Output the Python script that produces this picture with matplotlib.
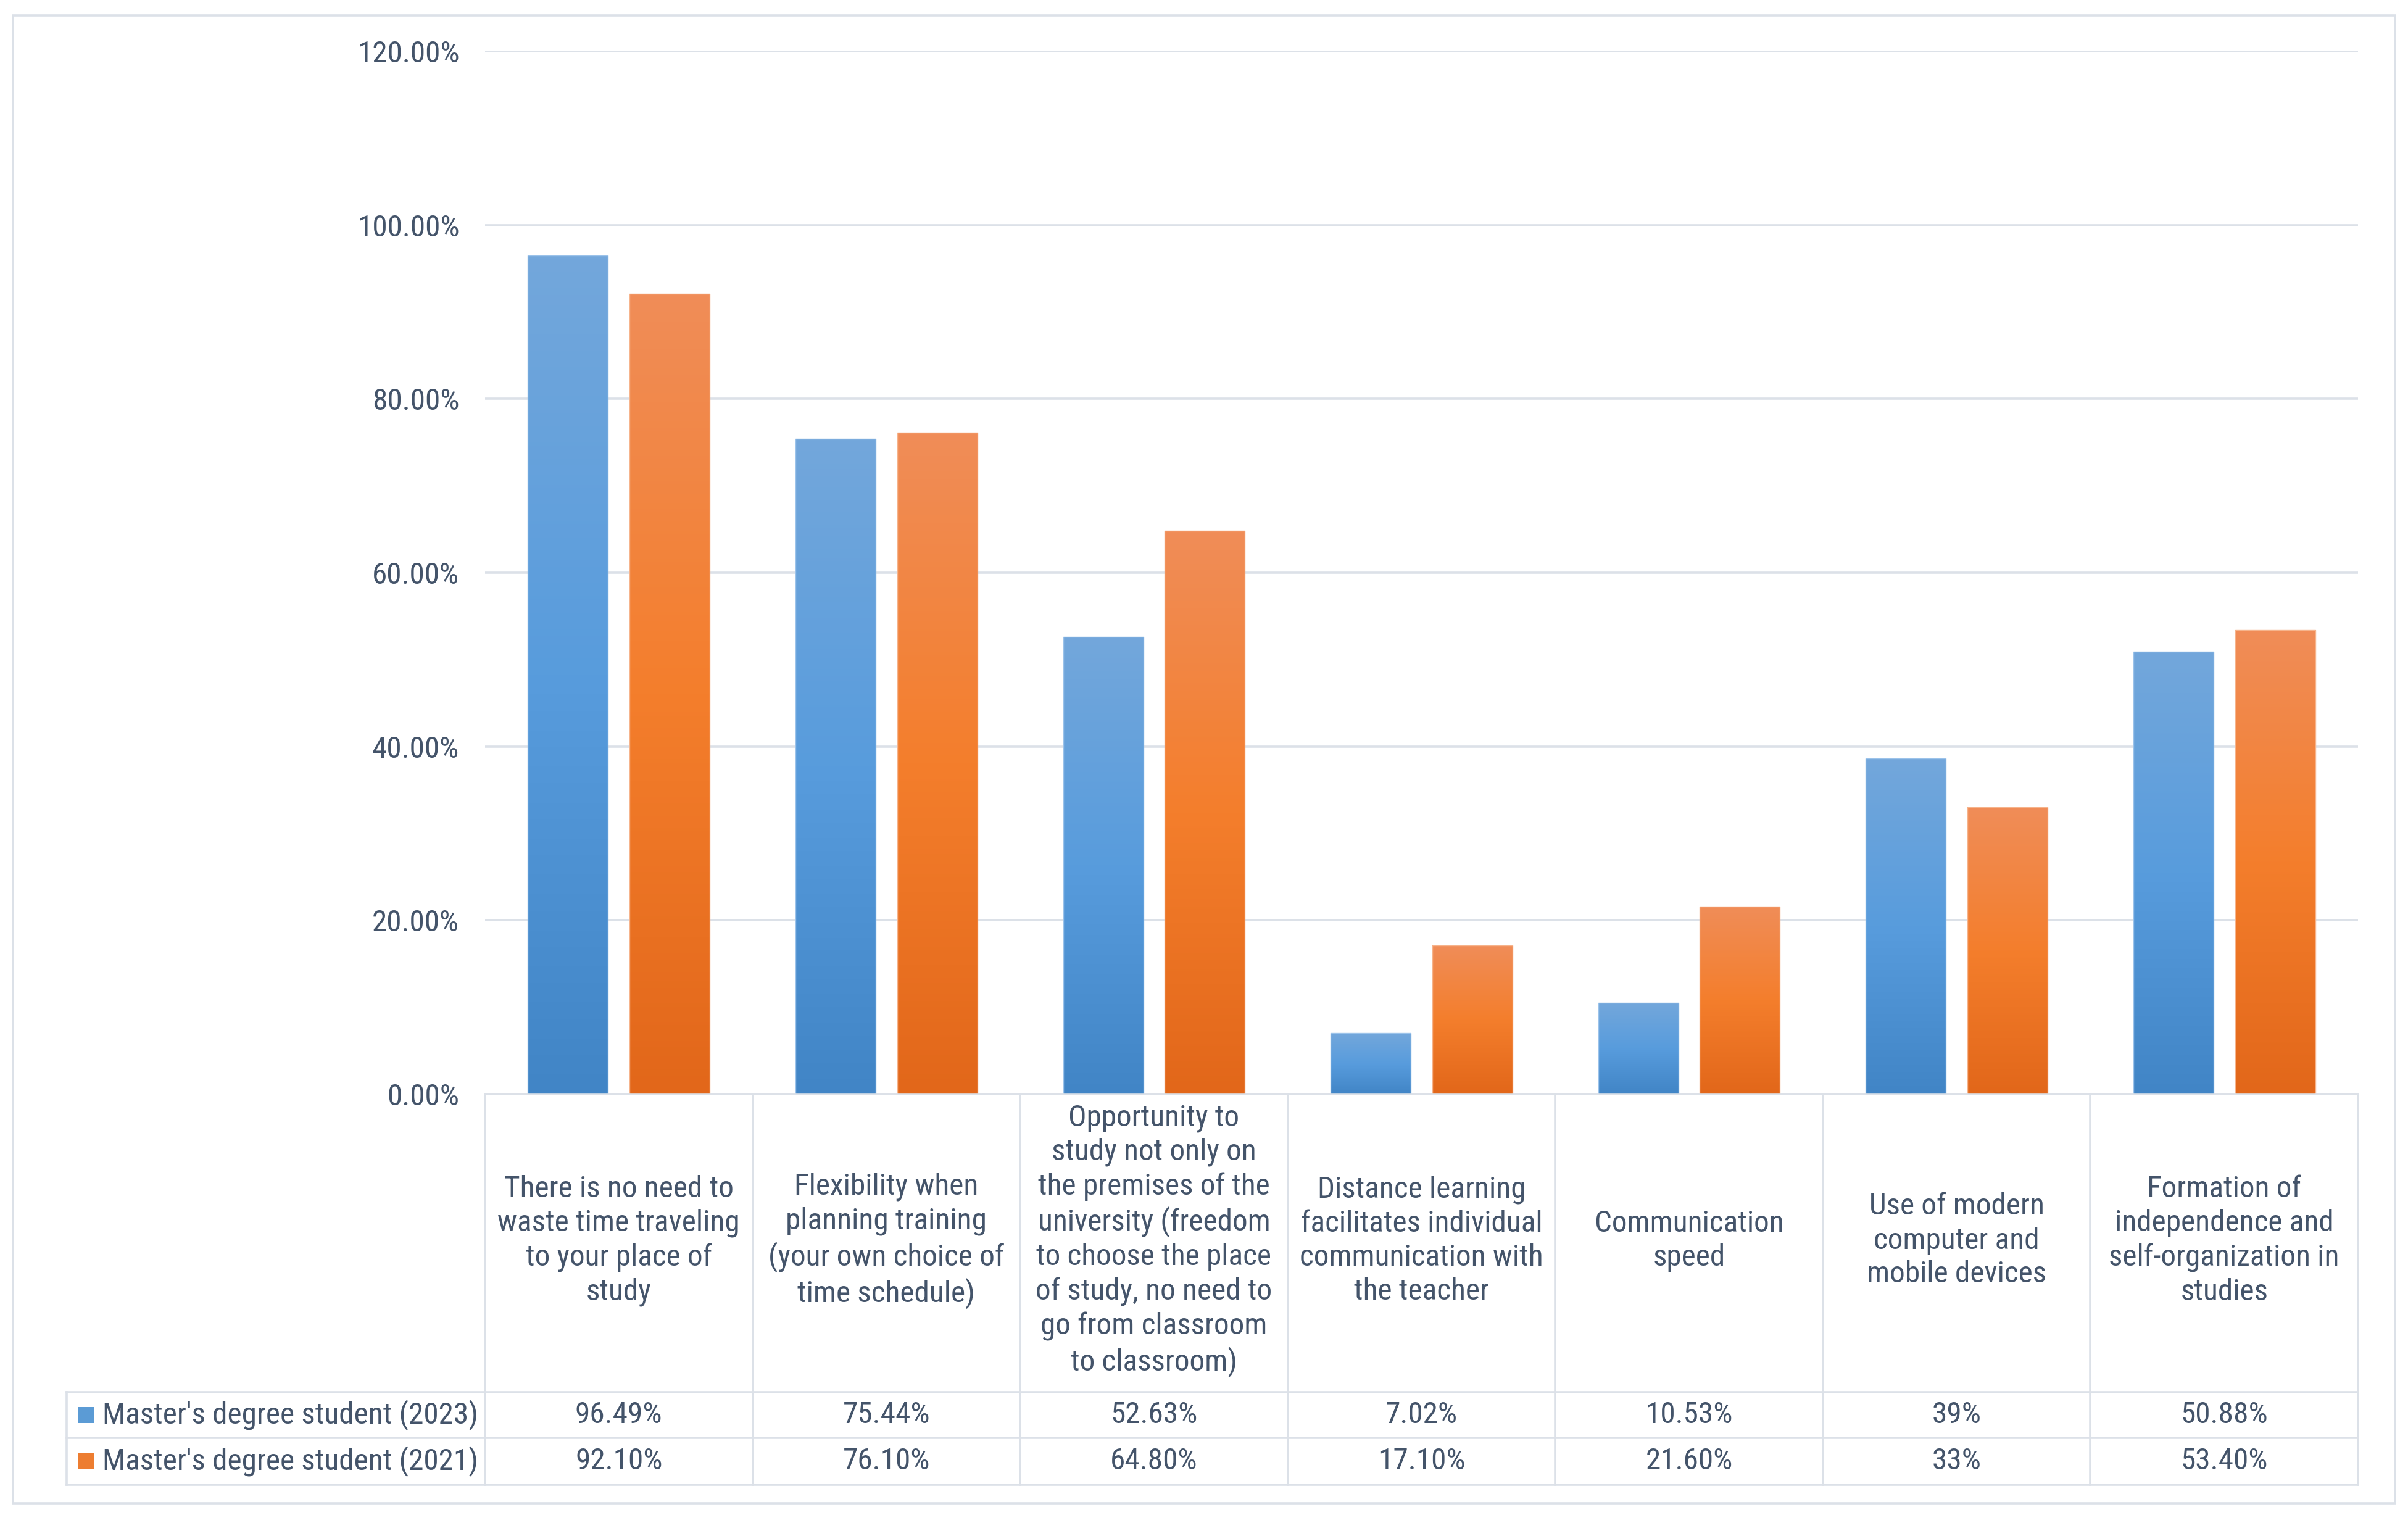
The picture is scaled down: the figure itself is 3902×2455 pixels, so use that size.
import numpy as np
import matplotlib
matplotlib.use("Agg")
import matplotlib.pyplot as plt
from matplotlib import font_manager
from matplotlib.patches import Rectangle
from matplotlib.colors import LinearSegmentedColormap

# ---------------- data ----------------
categories = [
    "There is no need to\nwaste time traveling\nto your place of\nstudy",
    "Flexibility when\nplanning training\n(your own choice of\ntime schedule)",
    "Opportunity to\nstudy not only on\nthe premises of the\nuniversity (freedom\nto choose the place\nof study, no need to\ngo from classroom\nto classroom)",
    "Distance learning\nfacilitates individual\ncommunication with\nthe teacher",
    "Communication\nspeed",
    "Use of modern\ncomputer and\nmobile devices",
    "Formation of\nindependence and\nself-organization in\nstudies",
]
series_names = ["Master's degree student (2023)", "Master's degree student (2021)"]
values_2023 = [96.49, 75.44, 52.63, 7.02, 10.53, 38.6, 50.88]
values_2021 = [92.10, 76.10, 64.80, 17.10, 21.60, 33.0, 53.40]
labels_2023 = ["96.49%", "75.44%", "52.63%", "7.02%", "10.53%", "39%", "50.88%"]
labels_2021 = ["92.10%", "76.10%", "64.80%", "17.10%", "21.60%", "33%", "53.40%"]
y_ticks = [0, 20, 40, 60, 80, 100, 120]

# ---------------- style ----------------
def pick_font():
    for fam in ["Liberation Sans Narrow", "Roboto Condensed", "Open Sans Condensed", "Liberation Sans"]:
        try:
            font_manager.findfont(font_manager.FontProperties(family=fam), fallback_to_default=False)
            return fam
        except Exception:
            pass
    return "DejaVu Sans"

FONT = pick_font()
plt.rcParams["font.family"] = [FONT, "DejaVu Sans"]
TXT = "#44546A"
GRID = "#DCE1E8"
FS = 35.5

W, H = 3902, 2455
DPI = 100
fig = plt.figure(figsize=(W / DPI, H / DPI), dpi=DPI)
fig.patch.set_facecolor("white")

L, R = 786, 3821
Y0, Y120 = 1773, 83
ax = fig.add_axes([L / W, 1 - Y0 / H, (R - L) / W, (Y0 - Y120) / H])
ax.set_xlim(-0.5, 6.5)
ax.set_ylim(0, 120)
for s in ax.spines.values():
    s.set_visible(False)
ax.set_xticks([])
ax.set_yticks(y_ticks)
ax.set_yticklabels([f"{t:.2f}%" for t in y_ticks], fontsize=FS, color=TXT)
ax.tick_params(axis="y", length=0, pad=30)
ax.yaxis.grid(True, color=GRID, linewidth=2.6)
ax.set_axisbelow(True)

blue_cmap = LinearSegmentedColormap.from_list("b", ["#4185C6", "#589CDD", "#73A7DB"])
orange_cmap = LinearSegmentedColormap.from_list("o", ["#E2671A", "#F47E2C", "#F08D58"])
grad = np.linspace(0, 1, 256).reshape(-1, 1)

x = np.arange(len(categories))
bw = 0.30
off = 0.19
for vals, cmap, edge in [(values_2023, blue_cmap, "#9CC3EA"), (values_2021, orange_cmap, "#F6B48C")]:
    pos = x - off if cmap is blue_cmap else x + off
    bars = ax.bar(pos, vals, width=bw, facecolor="none", edgecolor=edge, linewidth=1.0, zorder=3)
    for b in bars:
        x0, y0b = b.get_x(), b.get_y()
        w, h = b.get_width(), b.get_height()
        im = ax.imshow(grad, cmap=cmap, extent=[x0, x0 + w, y0b, y0b + h],
                       origin="lower", aspect="auto", zorder=2)
        im.set_clip_path(b)
ax.set_xlim(-0.5, 6.5)
ax.set_ylim(0, 120)

# ---------------- table overlay ----------------
ov = fig.add_axes([0, 0, 1, 1], zorder=5)
ov.set_xlim(0, W)
ov.set_ylim(H, 0)
ov.axis("off")
ov.patch.set_alpha(0)

lw = 2.6
# outer border
ov.add_patch(Rectangle((21, 25), 3881 - 21, 2436 - 25, fill=False, edgecolor=GRID, linewidth=lw))

T_TOP, T_R1, T_R2, T_BOT = 1773, 2256, 2330, 2406
LEG_L = 108
colw = (R - L) / len(categories)
colx = [L + i * colw for i in range(len(categories) + 1)]

ov.plot([L, R], [T_TOP, T_TOP], color=GRID, lw=lw)
for yy in (T_R1, T_R2, T_BOT):
    ov.plot([LEG_L, R], [yy, yy], color=GRID, lw=lw)
for cx in colx:
    ov.plot([cx, cx], [T_TOP, T_BOT], color=GRID, lw=lw)
ov.plot([LEG_L, LEG_L], [T_R1, T_BOT], color=GRID, lw=lw)

for i, cat in enumerate(categories):
    cx = (colx[i] + colx[i + 1]) / 2
    ov.text(cx, (T_TOP + T_R1) / 2 - 4, cat, ha="center", va="center", fontsize=FS,
            color=TXT, linespacing=1.25)
    ov.text(cx, (T_R1 + T_R2) / 2, labels_2023[i], ha="center", va="center", fontsize=FS, color=TXT)
    ov.text(cx, (T_R2 + T_BOT) / 2, labels_2021[i], ha="center", va="center", fontsize=FS, color=TXT)

for (y_a, y_b), name, col in [((T_R1, T_R2), series_names[0], "#5B9BD5"),
                              ((T_R2, T_BOT), series_names[1], "#ED7D31")]:
    yc = (y_a + y_b) / 2
    ov.add_patch(Rectangle((126, yc - 13), 27, 26, facecolor=col, edgecolor="none"))
    ov.text(166, yc, name, ha="left", va="center", fontsize=FS, color=TXT)

fig.savefig("out.png", dpi=DPI, facecolor="white")
